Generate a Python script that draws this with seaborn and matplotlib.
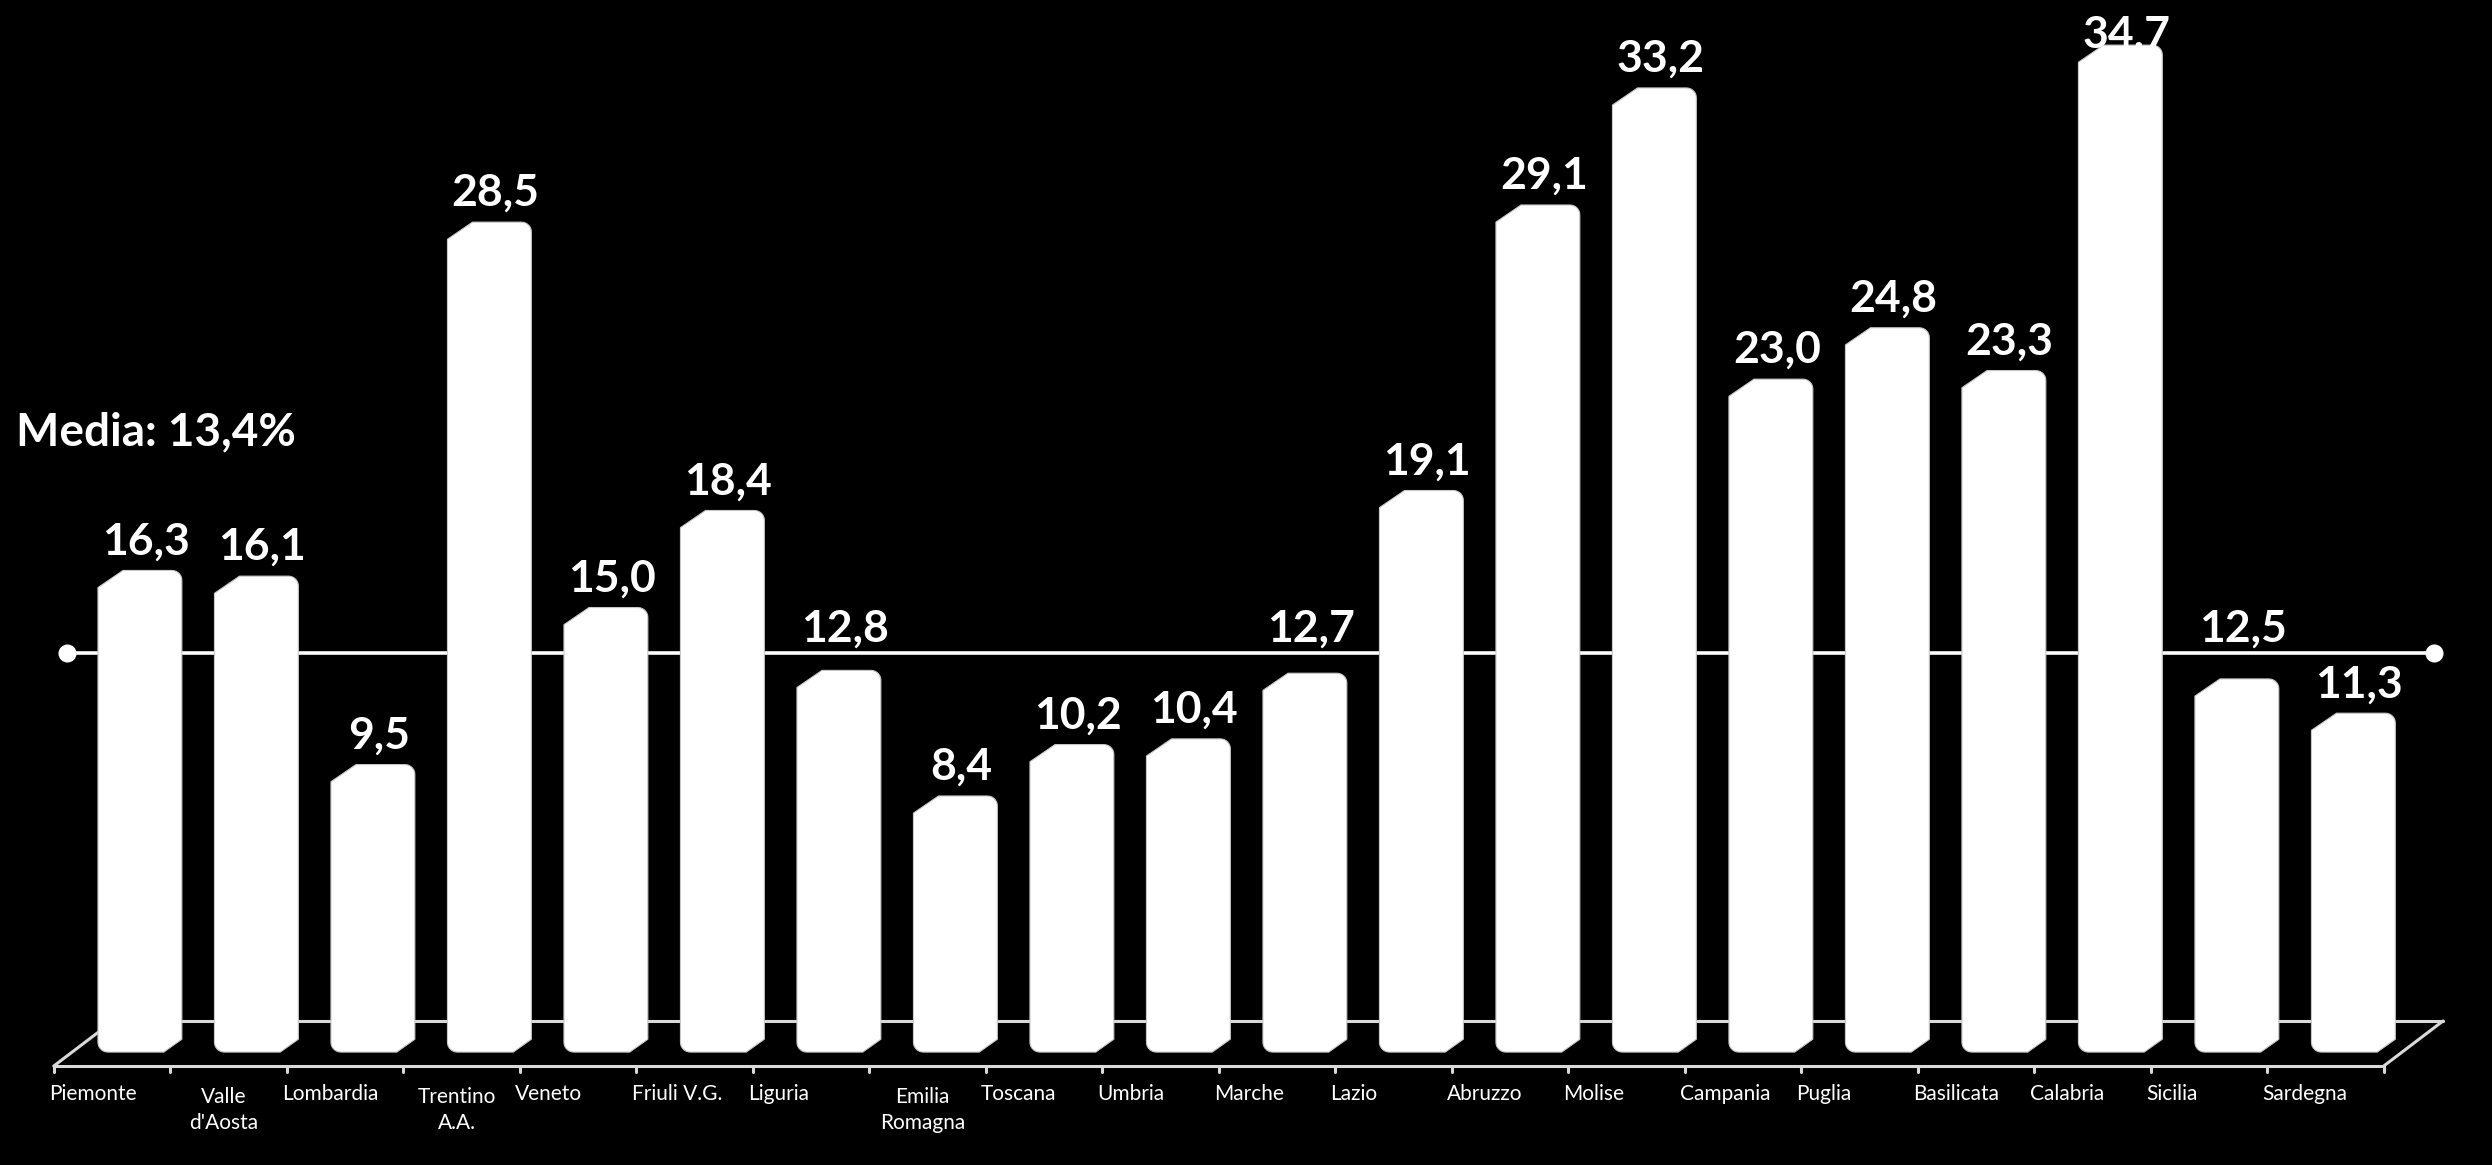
import numpy as np
import pandas as pd
import matplotlib
matplotlib.use("Agg")
import matplotlib.pyplot as plt
from matplotlib.patches import Polygon
import seaborn as sns

# ---------------- data ----------------
regions = ["Piemonte", "Valle\nd'Aosta", "Lombardia", "Trentino\nA.A.", "Veneto",
           "Friuli V.G.", "Liguria", "Emilia\nRomagna", "Toscana", "Umbria",
           "Marche", "Lazio", "Abruzzo", "Molise", "Campania", "Puglia",
           "Basilicata", "Calabria", "Sicilia", "Sardegna"]
values = [16.3, 16.1, 9.5, 28.5, 15.0, 18.4, 12.8, 8.4, 10.2, 10.4,
          12.7, 19.1, 29.1, 33.2, 23.0, 24.8, 23.3, 34.7, 12.5, 11.3]
media = 13.4
media_label = "Media: 13,4%"

# ---------------- style ----------------
sns.set_theme(style="white")
plt.rcParams['font.family'] = ['Lato', 'DejaVu Sans']

fig = plt.figure(figsize=(24.92, 11.65), dpi=100, facecolor='black')
ax = fig.add_axes([0, 0, 1, 1])
ax.set_facecolor('black')

df = pd.DataFrame({'region': regions, 'value': values})
sns.barplot(data=df, x='region', y='value', color='white', width=0.72,
            saturation=1, ax=ax, zorder=3)

XMIN, XMAX = -1.201, 20.19
YMIN, YMAX = -4.525, 36.28
ax.set_xlim(XMIN, XMAX)
ax.set_ylim(YMIN, YMAX)
ax.axis('off')

# bevelled 3D-like bar shapes derived from the seaborn bars
base = -0.57          # front face extends a bit below zero
cdx, cdy = 0.215, 0.60   # top-left chamfer
bdx, bdy = 0.155, 0.45   # bottom-right chamfer
rx, ry = 0.085, 0.34     # rounded corners


def arc(cx, cy, a0, a1, n=8):
    t = np.radians(np.linspace(a0, a1, n))
    return list(zip(cx + rx * np.cos(t), cy + ry * np.sin(t)))


for p in list(ax.patches):
    x0 = p.get_x()
    x1 = x0 + p.get_width()
    yt = p.get_y() + p.get_height()
    p.set_visible(False)
    pts = []
    pts += arc(x0 + rx, base + ry, 180, 270)
    pts += [(x1 - bdx, base), (x1, base + bdy)]
    pts += arc(x1 - rx, yt - ry, 0, 90)
    pts += [(x0 + cdx, yt), (x0, yt - cdy)]
    ax.add_patch(Polygon(pts, closed=True, facecolor='white',
                         edgecolor='#C8C8C8', lw=0.8, zorder=3))

# floor (3D base)
fc = '#D9D9D9'
fx0, fx1, fy = -0.74, 19.26, -1.06
dxb, dyb = 0.51, 1.58
ax.plot([fx0, fx1], [fy, fy], color=fc, lw=2.2, zorder=1)
ax.plot([fx0 + dxb, fx1 + dxb], [fy + dyb, fy + dyb], color=fc, lw=2.2, zorder=1)
ax.plot([fx0, fx0 + dxb], [fy, fy + dyb], color=fc, lw=2.2, zorder=1)
ax.plot([fx1, fx1 + dxb], [fy, fy + dyb], color=fc, lw=2.2, zorder=1)
for k in range(len(regions) + 1):
    ax.plot([fx0 + k, fx0 + k], [fy, fy - 0.22], color=fc, lw=2.2, zorder=1)

# mean line
ax.plot([-0.63, 19.69], [media, media], color='white', lw=2.6,
        marker='o', markersize=12, zorder=2)
fig.text(16 / 2492, 1 - 445 / 1165, media_label, color='white', fontsize=33,
         fontweight='bold', ha='left', va='baseline')

# value labels (lifted above the mean line when they would cross it)
cap = 1.1
for i, v in enumerate(values):
    y = v + 0.56
    if y < media + 0.4 and y + cap > media:
        y = media + 0.4
    y = min(y, YMAX - 1.68)
    ax.text(i + 0.05, y, f"{v:.1f}".replace('.', ','), color='white',
            fontsize=32, fontweight='bold', ha='center', va='baseline', zorder=5)

# category labels
for i, lab in enumerate(regions):
    if '\n' in lab:
        ax.text(i - 0.28, -3.25, lab, color='white', fontsize=15, ha='center',
                va='baseline', multialignment='center', linespacing=1.35)
    else:
        ax.text(i - 0.78, -2.25, lab, color='white', fontsize=15, ha='left',
                va='baseline')

fig.savefig('out.png', dpi=100, facecolor='black')
